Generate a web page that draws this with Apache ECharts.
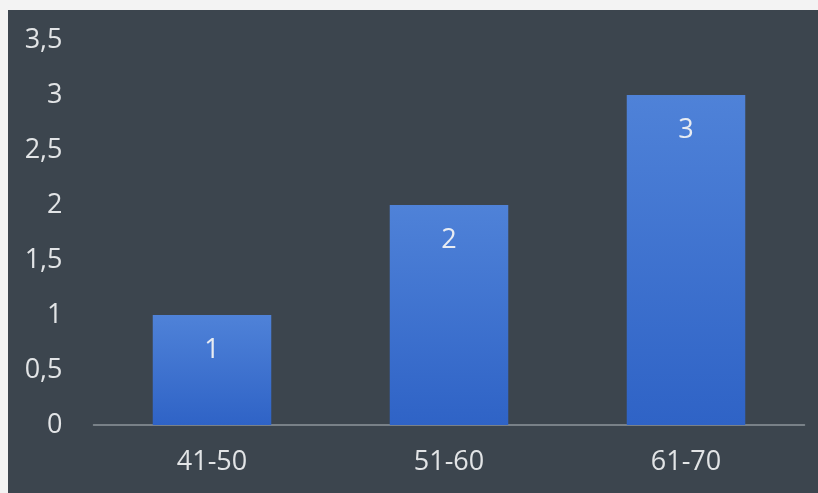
<!DOCTYPE html>
<html>
<head>
<meta charset="utf-8">
<script src="https://cdn.jsdelivr.net/npm/echarts@6/dist/echarts.min.js"></script>
<style>
html,body{margin:0;padding:0;background:#f3f3f3;width:818px;height:493px;overflow:hidden;}
#c{position:absolute;left:8px;top:10px;width:810px;height:483px;}
</style>
</head>
<body>
<div id="c"></div>
<script>
const categories = ['41-50', '51-60', '61-70'];
const values = [1, 2, 3];
const yTicks = [0, 0.5, 1, 1.5, 2, 2.5, 3, 3.5];

const chart = echarts.init(document.getElementById('c'));
chart.setOption({
  backgroundColor: '#3c454e',
  animation: false,
  grid: {left: 85.5, right: 13.5, top: 30, bottom: 68},
  xAxis: {
    type: 'category',
    data: categories,
    axisLine: {lineStyle: {color: '#8d959c', width: 1.5}},
    axisTick: {show: false},
    axisLabel: {color: '#e2e4e6', fontSize: 27, fontFamily: 'Open Sans', margin: 24}
  },
  yAxis: {
    type: 'value',
    min: 0, max: 3.5, interval: 0.5,
    splitLine: {show: false},
    axisLine: {show: false},
    axisTick: {show: false},
    axisLabel: {
      color: '#e2e4e6', fontSize: 27, fontFamily: 'Open Sans', margin: 31,
      formatter: v => yTicks.includes(v) ? String(v).replace('.', ',') : ''
    }
  },
  series: [{
    type: 'bar',
    data: values,
    barWidth: '50%',
    itemStyle: {
      color: new echarts.graphic.LinearGradient(0, 0, 0, 1, [
        {offset: 0, color: '#4f82d8'},
        {offset: 1, color: '#2f63c6'}
      ])
    },
    label: {
      show: true, position: 'insideTop', distance: 22,
      color: '#e8ecf2', fontSize: 27, fontFamily: 'Open Sans'
    }
  }]
});
</script>
</body>
</html>
